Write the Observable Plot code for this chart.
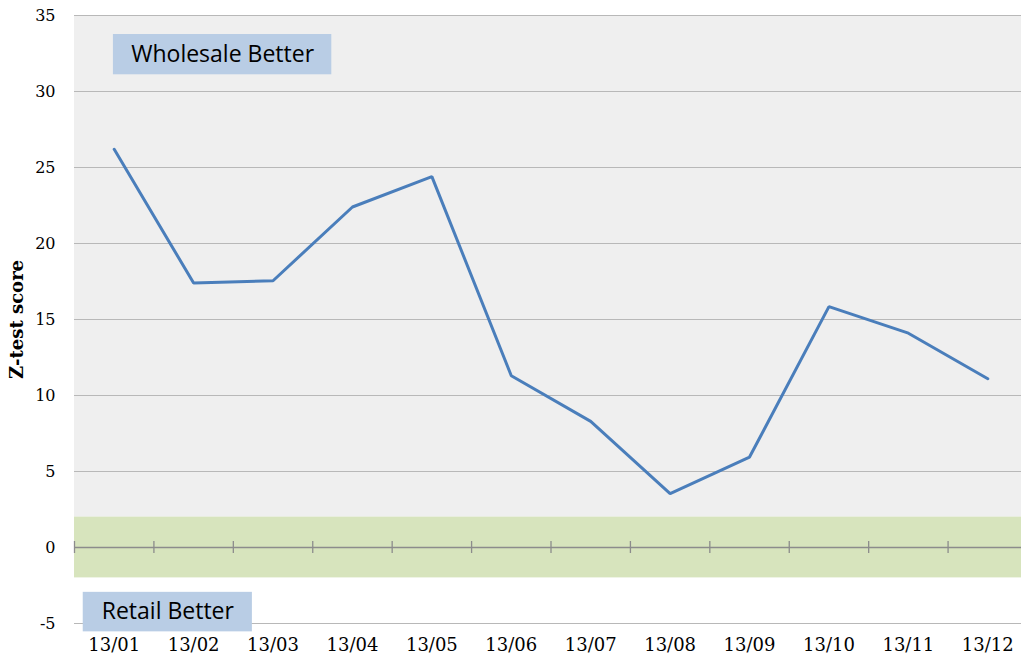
<!DOCTYPE html>
<html>
<head>
<meta charset="utf-8">
<script src="https://cdn.jsdelivr.net/npm/d3@7"></script>
<script src="https://cdn.jsdelivr.net/npm/@observablehq/plot@0.6"></script>
<style>
  html, body { margin: 0; padding: 0; background: #fff; }
  svg { display: block; }
</style>
</head>
<body>
<div id="chart"></div>
<script>
const months = ["13/01","13/02","13/03","13/04","13/05","13/06","13/07","13/08","13/09","13/10","13/11","13/12"];
const zScores = [26.2, 17.4, 17.55, 22.4, 24.4, 11.3, 8.3, 3.55, 5.95, 15.85, 14.1, 11.1];
const yTicks = [-5, 0, 5, 10, 15, 20, 25, 30, 35];
const gridValues = [-5, 5, 10, 15, 20, 25, 30, 35];
const yLabel = "Z-test score";
// shaded regions (value ranges)
const wholesaleZone = [{y1: 2, y2: 35}];
const neutralZone = [{y1: -2, y2: 2}];
// annotation boxes (in x index / y value units)
const annotations = [
  {text: "Wholesale Better", x1: 0.99, x2: 3.74, y1: 31.1, y2: 33.75},
  {text: "Retail Better", x1: 0.61, x2: 2.74, y1: -5.55, y2: -2.95}
];

const data = months.map((m, i) => ({month: m, idx: i + 1, z: zScores[i]}));
const boundaries = d3.range(0, months.length + 1).map(i => i + 0.5);

const serif = "'DejaVu Serif', 'Liberation Serif', serif";
const sans = "'Open Sans', Lato, sans-serif";

const chart = Plot.plot({
  width: 1021,
  height: 663,
  marginLeft: 74,
  marginRight: 0,
  marginTop: 15,
  marginBottom: 40,
  style: {background: "#fff", overflow: "visible"},
  x: {type: "linear", domain: [0.5, 12.5], range: [74, 1027]},
  y: {domain: [-5, 35], range: [623, 15]},
  marks: [
    Plot.rect(wholesaleZone, {y1: "y1", y2: "y2", fill: "#efefef"}),
    Plot.rect(neutralZone, {y1: "y1", y2: "y2", fill: "#d7e4bd"}),
    Plot.ruleY(gridValues, {stroke: "#b8b8b8", strokeWidth: 1}),
    Plot.ruleY([0], {stroke: "#8c8c8c", strokeWidth: 1.3}),
    Plot.ruleX(boundaries, {x: d => d, y1: 0, y2: 0, insetTop: -6, insetBottom: -6, stroke: "#8c8c8c", strokeWidth: 1.3}),
    Plot.axisY({ticks: yTicks, tickFormat: d => String(d), tickSize: 0, tickPadding: 19, fontSize: 16, fontFamily: serif, label: null, color: "#000"}),
    Plot.axisX({ticks: months.map((m, i) => i + 1), tickFormat: d => months[d - 1], tickSize: 0, tickPadding: 15, fontSize: 18, fontFamily: serif, label: null, color: "#000"}),
    Plot.text([yLabel], {frameAnchor: "left", textAnchor: "middle", rotate: -90, dx: -57, fontSize: 18, fontWeight: "bold", fontFamily: serif, fill: "#000"}),
    Plot.line(data, {x: "idx", y: "z", stroke: "#4a7ebb", strokeWidth: 3, strokeLinejoin: "miter"}),
    Plot.rect(annotations, {x1: "x1", x2: "x2", y1: "y1", y2: "y2", fill: "#b9cde5"}),
    Plot.text(annotations, {x: d => (d.x1 + d.x2) / 2, y: d => (d.y1 + d.y2) / 2, text: "text", fontSize: 23, fontFamily: sans, fill: "#000"})
  ]
});
document.getElementById("chart").appendChild(chart);
</script>
</body>
</html>
